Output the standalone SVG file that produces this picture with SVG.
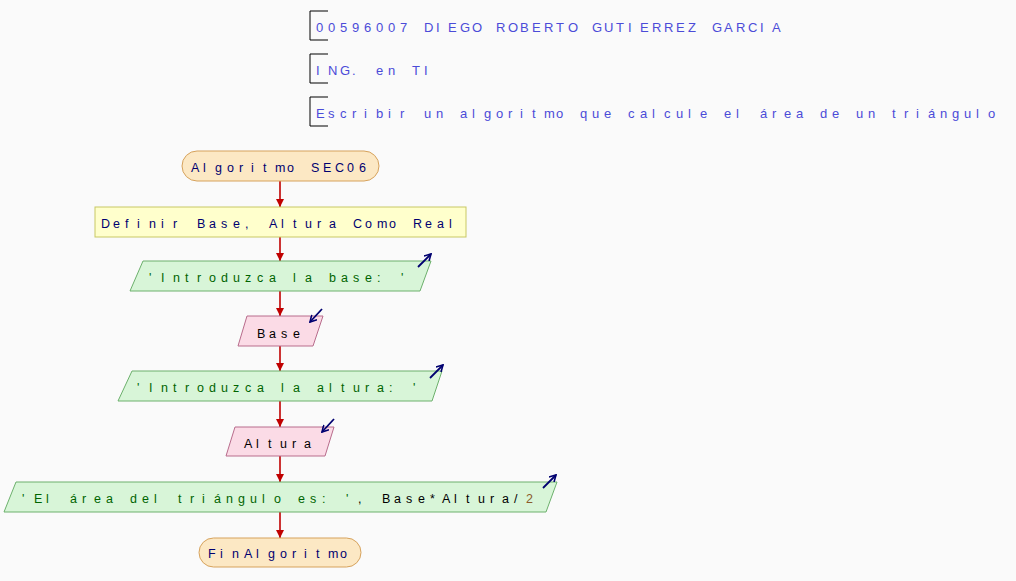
<svg xmlns="http://www.w3.org/2000/svg" width="1016" height="581" viewBox="0 0 1016 581">
<defs>
<style>
text{font-family:"Liberation Sans",Arial,sans-serif;}
.hdr{font-size:13px;fill:#4b4bd8;}
.brk{fill:none;stroke:#000;stroke-width:1;}
.nt{font-size:12.5px;}
.term{fill:#fce8c4;stroke:#d6a25c;stroke-width:1;}
.def{fill:#ffffcc;stroke:#c8c864;stroke-width:1;}
.out{fill:#d8f5d8;stroke:#6cb06c;stroke-width:1;}
.inp{fill:#fbdbe6;stroke:#b86c8c;stroke-width:1;}
.navy{fill:#000070;}
.grn{fill:#006400;}
.blk{fill:#000;}
.num{fill:#8b5a2b;}
.con{stroke:#c00000;stroke-width:1.6;fill:none;}
.ico{stroke:#000070;stroke-width:1.8;fill:none;}
</style>
<marker id="ah" viewBox="0 0 10 10" refX="10" refY="5" markerWidth="8" markerHeight="8" markerUnits="userSpaceOnUse" orient="auto">
<path d="M0,0 L10,5 L0,10 z" fill="#c00000"/>
</marker>
<marker id="ih" viewBox="0 0 10 10" refX="9" refY="5" markerWidth="8" markerHeight="8" markerUnits="userSpaceOnUse" orient="auto">
<path d="M1,0.5 L9,5 L1,9.5" fill="none" stroke="#000070" stroke-width="2"/>
</marker>
</defs>
<rect width="1016" height="581" fill="#fafafa"/>
<g id="header">
<path class="brk" d="M328,11 H310 V40 H328"/>
<text class="hdr" y="32" x="316 328 340 352 364 376 388 400 412 424 436 448 460 472 484 496 508 520 532 544 556 568 580 592 604 616 628 640 652 664 676 688 700 712 724 736 748 760 772">00596007 DIEGO ROBERTO GUTIERREZ GARCIA</text>
<path class="brk" d="M328,54 H310 V83 H328"/>
<text class="hdr" y="75" x="316 328 340 352 364 376 388 400 412 424">ING. en TI</text>
<path class="brk" d="M328,97 H310 V126 H328"/>
<text class="hdr" y="118" x="316 328 340 352 364 376 388 400 412 424 436 448 460 472 484 496 508 520 532 544 556 568 580 592 604 616 628 640 652 664 676 688 700 712 724 736 748 760 772 784 796 808 820 832 844 856 868 880 892 904 916 928 940 952 964 976 988">Escribir un algoritmo que calcule el área de un triángulo</text>
</g>
<g id="connectors">
<line class="con" x1="280" y1="181" x2="280" y2="207" marker-end="url(#ah)"/>
<line class="con" x1="280" y1="237" x2="280" y2="261" marker-end="url(#ah)"/>
<line class="con" x1="280" y1="291" x2="280" y2="316" marker-end="url(#ah)"/>
<line class="con" x1="280" y1="346" x2="280" y2="371" marker-end="url(#ah)"/>
<line class="con" x1="280" y1="401" x2="280" y2="427" marker-end="url(#ah)"/>
<line class="con" x1="280" y1="456" x2="280" y2="482" marker-end="url(#ah)"/>
<line class="con" x1="280" y1="512" x2="280" y2="538" marker-end="url(#ah)"/>
</g>
<g id="n_inicio">
<rect class="term" x="182" y="151" width="197" height="30" rx="15"/>
<text class="nt navy" y="172" x="191 203 215 227 239 251 263 275 287 299 311 323 335 347 359">Algoritmo SEC06</text>
</g>
<g id="n_definir">
<rect class="def" x="95" y="207" width="371" height="30"/>
<text class="nt navy" y="228" x="101 113 125 137 149 161 173 185 197 209 221 233 245 257 269 281 293 305 317 329 341 353 365 377 389 401 413 425 437 449">Definir Base, Altura Como Real</text>
</g>
<g id="n_out1">
<polygon class="out" points="143,261 431,261 420,291 130,291"/>
<text class="nt grn" y="282" x="149 161 173 185 197 209 221 233 245 257 269 281 293 305 317 329 341 353 365 377 389 401">'Introduzca la base: '</text>
<line class="ico" x1="418" y1="267" x2="431" y2="254" marker-end="url(#ih)"/>
</g>
<g id="n_in1">
<polygon class="inp" points="247,316 323,316 313,346 238,346"/>
<text class="nt blk" y="338" x="257 269 281 293">Base</text>
<line class="ico" x1="322" y1="309" x2="310" y2="322" marker-end="url(#ih)"/>
</g>
<g id="n_out2">
<polygon class="out" points="132,371 442,371 432,401 118,401"/>
<text class="nt grn" y="392" x="137 149 161 173 185 197 209 221 233 245 257 269 281 293 305 317 329 341 353 365 377 389 401 413">'Introduzca la altura: '</text>
<line class="ico" x1="430" y1="378" x2="443" y2="365" marker-end="url(#ih)"/>
</g>
<g id="n_in2">
<polygon class="inp" points="235,427 334,427 325,456 226,456"/>
<text class="nt blk" y="448" x="244 256 268 280 292 304">Altura</text>
<line class="ico" x1="334" y1="419" x2="322" y2="432" marker-end="url(#ih)"/>
</g>
<g id="n_out3">
<polygon class="out" points="16,482 557,482 546,512 4,512"/>
<text class="nt" y="503"><tspan class="grn" x="22 34 46 58 70 82 94 106 118 130 142 154 166 178 190 202 214 226 238 250 262 274 286 298 310 322 334 346">'El área del triángulo es: '</tspan><tspan class="blk" x="358 370 382 394 406 418 430 442 454 466 478 490 502 514">, Base*Altura/</tspan><tspan class="num" x="526">2</tspan></text>
<line class="ico" x1="543" y1="488" x2="556" y2="475" marker-end="url(#ih)"/>
</g>
<g id="n_fin">
<rect class="term" x="199" y="538" width="162" height="29" rx="14.5"/>
<text class="nt navy" y="558" x="208 220 232 244 256 268 280 292 304 316 328 340">FinAlgoritmo</text>
</g>
</svg>
